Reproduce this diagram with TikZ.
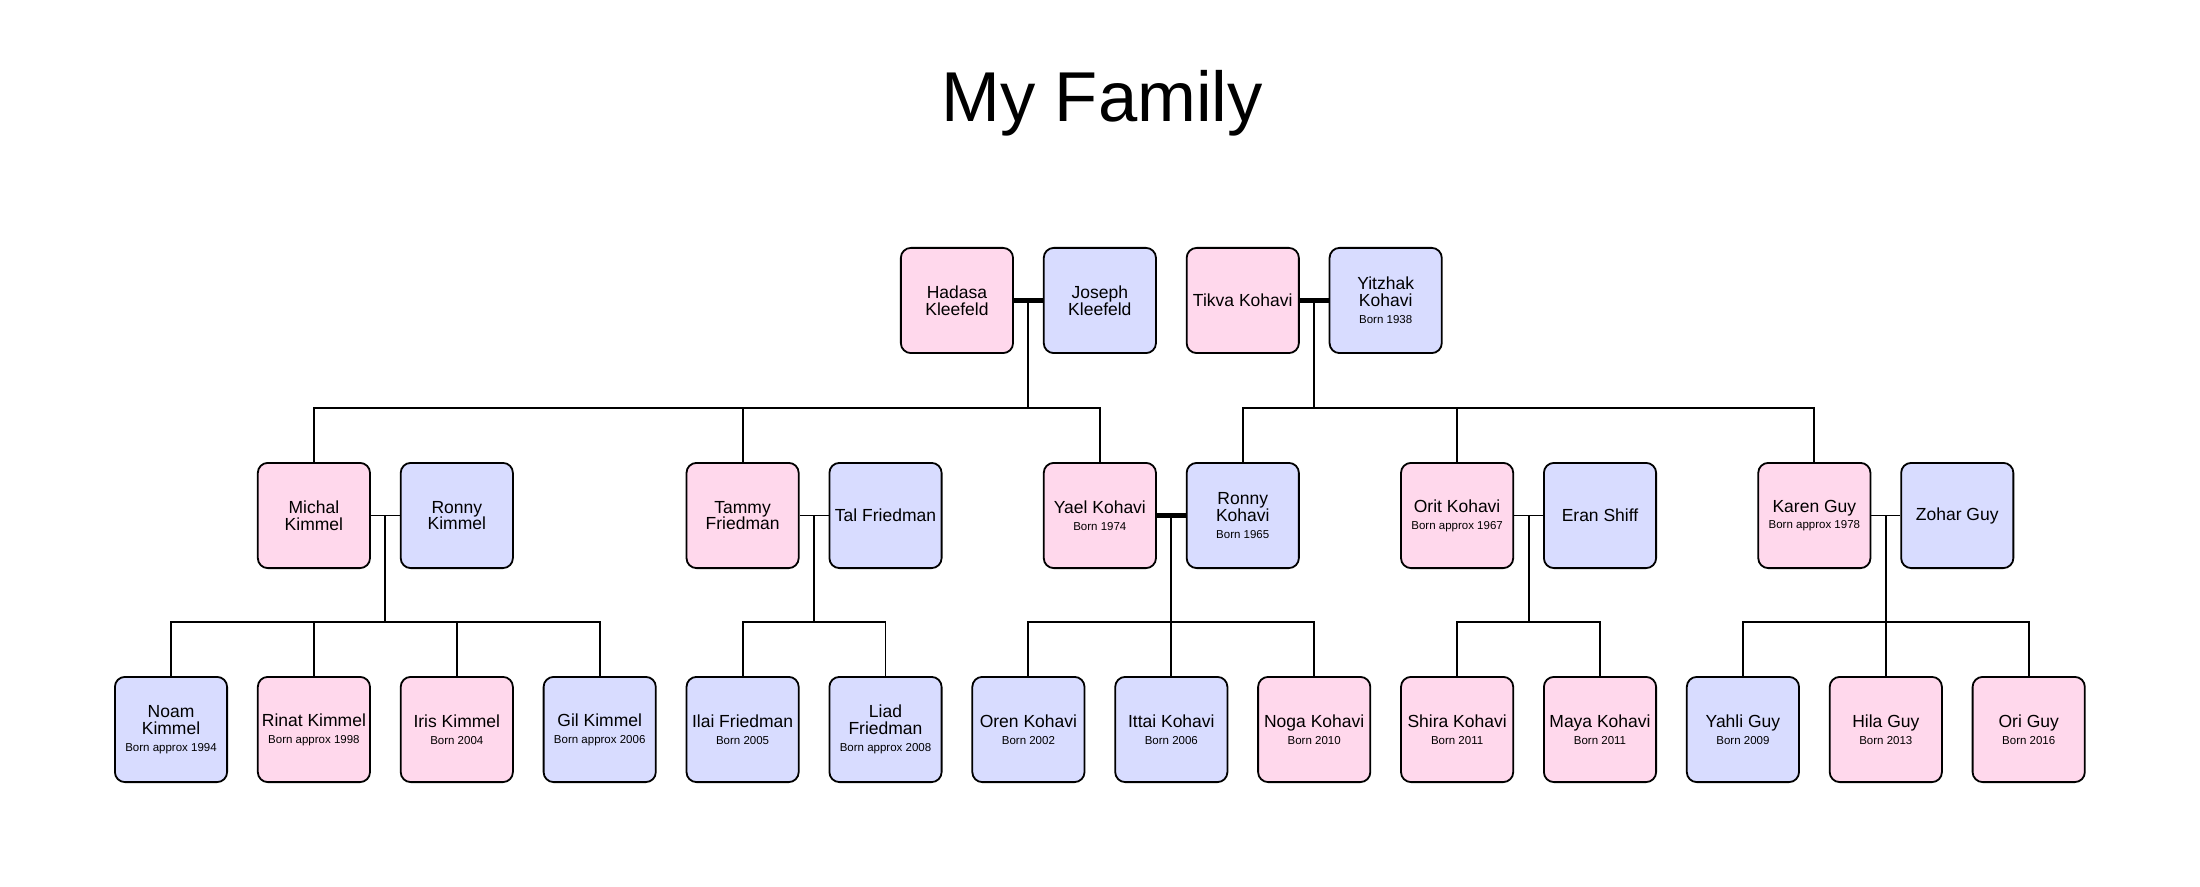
\documentclass[tikz,border=0pt]{standalone}
\usepackage{fontspec}
\setmainfont{Liberation Sans}
\usetikzlibrary{calc}
\definecolor{fcol}{HTML}{FFD8EC}
\definecolor{mcol}{HTML}{D8DCFF}
\newcommand{\bornline}[1]{{\fontsize{5.75}{8.4}\selectfont #1}}
\begin{document}
\begin{tikzpicture}[x=0.5pt,y=-0.5pt,
  person/.style={draw=black,line width=0.9pt,rounded corners=5pt,minimum width=56.1pt,minimum height=52.6pt,inner sep=0pt,align=center,font=\fontsize{8.75}{8.4}\selectfont},
  fem/.style={person,fill=fcol},
  mal/.style={person,fill=mcol},
  thinl/.style={line width=0.95pt,black},
  thickl/.style={line width=2.25pt,black},
  titlefont/.style={font=\fontsize{35.3}{40}\selectfont}]
\useasboundingbox (0,0) rectangle (2200,887);
\fill[white] (0,0) rectangle (2200,887);
\node[titlefont,anchor=base] (title) at (1102,121.7) {My Family};
% rows
\coordinate (bus1) at (0,408);
\coordinate (bus2) at (0,622);
% generation 1
\node[fem] (hadasa) at ({171+142.9*5.5},300.5) {Hadasa\\Kleefeld};
\node[mal] (joseph) at ({171+142.9*6.5},300.5) {Joseph\\Kleefeld};
\node[fem] (tikva) at ({171+142.9*7.5},300.5) {Tikva Kohavi};
\node[mal] (yitzhak) at ({171+142.9*8.5},300.5) {Yitzhak\\Kohavi\\\bornline{Born 1938}};
% generation 2
\node[fem] (michal) at ({171+142.9*1},515.5) {Michal\\Kimmel};
\node[mal] (ronnyk) at ({171+142.9*2},515.5) {Ronny\\Kimmel};
\node[fem] (tammy) at ({171+142.9*4},515.5) {Tammy\\Friedman};
\node[mal] (tal) at ({171+142.9*5},515.5) {Tal Friedman};
\node[fem] (yael) at ({171+142.9*6.5},515.5) {Yael Kohavi\\\bornline{Born 1974}};
\node[mal] (ronnyh) at ({171+142.9*7.5},515.5) {Ronny\\Kohavi\\\bornline{Born 1965}};
\node[fem] (orit) at ({171+142.9*9},515.5) {Orit Kohavi\\\bornline{Born approx 1967}};
\node[mal] (eran) at ({171+142.9*10},515.5) {Eran Shiff};
\node[fem] (karen) at ({171+142.9*11.5},515.5) {Karen Guy\\\bornline{Born approx 1978}};
\node[mal] (zohar) at ({171+142.9*12.5},515.5) {Zohar Guy};
% generation 3
\node[mal] (noam) at ({171+142.9*0},729.5) {Noam\\Kimmel\\\bornline{Born approx 1994}};
\node[fem] (rinat) at ({171+142.9*1},729.5) {Rinat Kimmel\\\bornline{Born approx 1998}};
\node[fem] (iris) at ({171+142.9*2},729.5) {Iris Kimmel\\\bornline{Born 2004}};
\node[mal] (gil) at ({171+142.9*3},729.5) {Gil Kimmel\\\bornline{Born approx 2006}};
\node[mal] (ilai) at ({171+142.9*4},729.5) {Ilai Friedman\\\bornline{Born 2005}};
\node[mal] (liad) at ({171+142.9*5},729.5) {Liad\\Friedman\\\bornline{Born approx 2008}};
\node[mal] (oren) at ({171+142.9*6},729.5) {Oren Kohavi\\\bornline{Born 2002}};
\node[mal] (ittai) at ({171+142.9*7},729.5) {Ittai Kohavi\\\bornline{Born 2006}};
\node[fem] (noga) at ({171+142.9*8},729.5) {Noga Kohavi\\\bornline{Born 2010}};
\node[fem] (shira) at ({171+142.9*9},729.5) {Shira Kohavi\\\bornline{Born 2011}};
\node[fem] (maya) at ({171+142.9*10},729.5) {Maya Kohavi\\\bornline{Born 2011}};
\node[mal] (yahli) at ({171+142.9*11},729.5) {Yahli Guy\\\bornline{Born 2009}};
\node[fem] (hila) at ({171+142.9*12},729.5) {Hila Guy\\\bornline{Born 2013}};
\node[fem] (ori) at ({171+142.9*13},729.5) {Ori Guy\\\bornline{Born 2016}};
% couple Hadasa-Joseph
\draw[thickl] (hadasa.east) -- (joseph.west);
\coordinate (c1) at ($(hadasa.east)!0.5!(joseph.west)$);
\draw[thinl] (c1) -- (c1 |- bus1);
\draw[thinl] (michal.north) |- (bus1 -| yael.north) -- (yael.north);
\draw[thinl] (tammy.north) -- (tammy.north |- bus1);
% couple Tikva-Yitzhak
\draw[thickl] (tikva.east) -- (yitzhak.west);
\coordinate (c2) at ($(tikva.east)!0.5!(yitzhak.west)$);
\draw[thinl] (c2) -- (c2 |- bus1);
\draw[thinl] (ronnyh.north) |- (bus1 -| karen.north) -- (karen.north);
\draw[thinl] (orit.north) -- (orit.north |- bus1);
% couple Michal-Ronny Kimmel
\draw[thinl] (michal.east) -- (ronnyk.west);
\coordinate (c3) at ($(michal.east)!0.5!(ronnyk.west)$);
\draw[thinl] (c3) -- (c3 |- bus2);
\draw[thinl] (noam.north) |- (bus2 -| gil.north) -- (gil.north);
\draw[thinl] (rinat.north) -- (rinat.north |- bus2);
\draw[thinl] (iris.north) -- (iris.north |- bus2);
% couple Tammy-Tal
\draw[thinl] (tammy.east) -- (tal.west);
\coordinate (c4) at ($(tammy.east)!0.5!(tal.west)$);
\draw[thinl] (c4) -- (c4 |- bus2);
\draw[thinl] (ilai.north) |- (bus2 -| liad.north) -- (liad.north);
% couple Yael-Ronny Kohavi
\draw[thickl] (yael.east) -- (ronnyh.west);
\coordinate (c5) at ($(yael.east)!0.5!(ronnyh.west)$);
\draw[thinl] (c5) -- (c5 |- bus2);
\draw[thinl] (oren.north) |- (bus2 -| noga.north) -- (noga.north);
\draw[thinl] (ittai.north) -- (ittai.north |- bus2);
% couple Orit-Eran
\draw[thinl] (orit.east) -- (eran.west);
\coordinate (c6) at ($(orit.east)!0.5!(eran.west)$);
\draw[thinl] (c6) -- (c6 |- bus2);
\draw[thinl] (shira.north) |- (bus2 -| maya.north) -- (maya.north);
% couple Karen-Zohar
\draw[thinl] (karen.east) -- (zohar.west);
\coordinate (c7) at ($(karen.east)!0.5!(zohar.west)$);
\draw[thinl] (c7) -- (c7 |- bus2);
\draw[thinl] (yahli.north) |- (bus2 -| ori.north) -- (ori.north);
\draw[thinl] (hila.north) -- (hila.north |- bus2);
\end{tikzpicture}
\end{document}
